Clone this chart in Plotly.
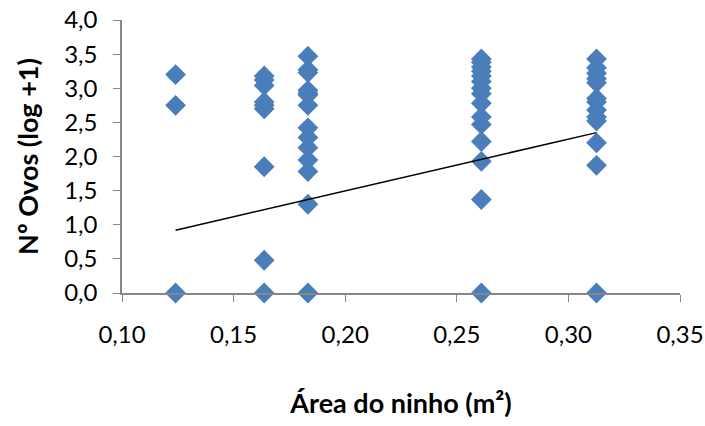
import plotly.graph_objects as go

col_x = [0.124, 0.1637, 0.1833, 0.261, 0.3126]
ovos_c1 = [3.20, 2.75, 0.0]
ovos_c2 = [3.18, 3.12, 3.04, 2.80, 2.75, 2.70, 1.85, 0.48, 0.0]
ovos_c3 = [3.47, 3.27, 3.23, 2.97, 2.93, 2.90, 2.75, 2.42, 2.28, 2.13, 1.95, 1.78, 1.30, 0.0]
ovos_c4 = [3.43, 3.38, 3.31, 3.25, 3.18, 3.10, 3.00, 2.92, 2.78, 2.58, 2.47, 2.22, 1.93, 1.37, 0.0]
ovos_c5 = [3.43, 3.30, 3.22, 3.14, 3.08, 2.85, 2.80, 2.68, 2.58, 2.52, 2.20, 1.87, 0.0]
trend_x = [0.124, 0.3126]
trend_y = [0.92, 2.35]

cols = [ovos_c1, ovos_c2, ovos_c3, ovos_c4, ovos_c5]
xs, ys = [], []
for cx, vals in zip(col_x, cols):
    xs += [cx] * len(vals)
    ys += vals

fig = go.Figure()
fig.add_trace(go.Scatter(x=xs, y=ys, mode="markers", cliponaxis=False,
                         marker=dict(symbol="diamond", size=16, color="#4A7EBB",
                                     line=dict(width=0)), showlegend=False))
fig.add_trace(go.Scatter(x=trend_x, y=trend_y, mode="lines", cliponaxis=False,
                         line=dict(color="black", width=1.5), showlegend=False))

font = "Lato, 'Open Sans', sans-serif"
fig.update_layout(
    width=705, height=426, separators=", ",
    margin=dict(l=122, r=25, t=20, b=133),
    paper_bgcolor="white", plot_bgcolor="white",
    font=dict(family=font, size=24, color="black"),
    xaxis=dict(range=[0.10, 0.35], dtick=0.05, tick0=0.10, tickformat=".2f",
               automargin=False,
               showgrid=False, zeroline=False, showline=True, linecolor="#868686",
               linewidth=1.5, ticks="outside", ticklen=7, tickcolor="#868686",
               ticklabelstandoff=12,
               title=dict(text="<b>Área do ninho (m²)</b>", standoff=48,
                          font=dict(size=27))),
    yaxis=dict(range=[0, 4.0], dtick=0.5, tickformat=".1f",
               automargin=False,
               showgrid=False, zeroline=False, showline=True, linecolor="#868686",
               linewidth=1.5, ticks="outside", ticklen=7, tickcolor="#868686",
               ticklabelstandoff=11,
               title=dict(text="<b>Nº Ovos (log +1)</b>", standoff=18,
                          font=dict(size=27))),
)
fig.write_html("out.html")
